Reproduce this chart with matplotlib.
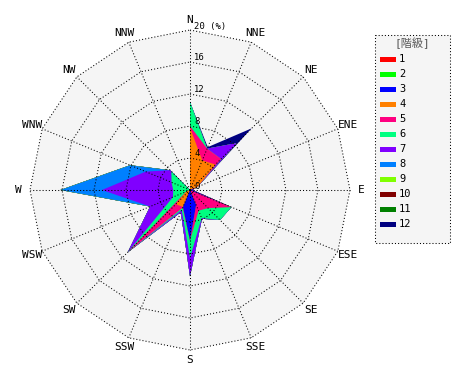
import numpy as np
import matplotlib
matplotlib.use("Agg")
import matplotlib.pyplot as plt
from matplotlib.patches import Polygon, Rectangle

# ---- data (frequency %, per direction, per class) ----
directions = ["N", "NNE", "NE", "ENE", "E", "ESE", "SE", "SSE",
              "S", "SSW", "SW", "WSW", "W", "WNW", "NW", "NNW"]
classes = ["1", "2", "3", "4", "5", "6", "7", "8", "9", "10", "11", "12"]
colors = ["#FF0000", "#00FF00", "#0000FF", "#FF8000", "#FF0080", "#00FF80",
          "#8000FF", "#0080FF", "#80FF00", "#800000", "#008000", "#000080"]

class1 = [0, 0, 0, 0, 0, 0, 0, 0, 0, 0, 0, 0, 0, 0, 0, 0]
class2 = [0, 0, 0, 0, 0, 0, 0, 0, 0, 0, 0, 0, 0, 0, 0, 0]
class3 = [0, 0, 0, 0.8, 0.3, 5.5, 0, 2.0, 6.3, 2.3, 0, 0, 0, 0, 0, 0]
class4 = [7.8, 4.0, 4.5, 0.2, 0, 0, 0, 0, 0, 0, 2.5, 0.5, 0, 0, 0, 0]
class5 = [0.2, 1.6, 1.0, 0, 0, 0.1, 3.2, 0.8, 0, 0.1, 8.5, 0, 0, 0, 0, 0]
class6 = [3.0, 0, 0, 0, 0, 0, 2.1, 1.0, 2.2, 0.3, 0, 1.8, 2.1, 2.5, 3.3, 0]
class7 = [0, 0, 2.8, 0, 0, 0, 0, 0.1, 2.3, 0.3, 0, 3.1, 8.9, 3.5, 0.2, 0]
class8 = [0, 0, 0, 0, 0, 0, 0, 0, 0, 0, 0, 0, 5.2, 2.1, 0, 0]
class9 = [0, 0, 0, 0, 0, 0, 0, 0, 0, 0, 0, 0, 0, 0, 0, 0]
class10 = [0, 0, 0, 0, 0, 0, 0, 0, 0, 0, 0, 0, 0, 0, 0, 0]
class11 = [0, 0, 0, 0, 0, 0, 0, 0, 0, 0, 0, 0, 0, 0, 0, 0]
class12 = [0, 0.2, 2.6, 0, 0, 0, 0, 0, 0, 0, 0, 0, 0, 0, 0, 0]

ring_values = [4, 8, 12, 16, 20]
ring_labels = ["4", "8", "12", "16", "20 (%)"]
rmax = 20

series = [class1, class2, class3, class4, class5, class6, class7, class8,
          class9, class10, class11, class12]

mono = "DejaVu Sans Mono"

fig = plt.figure(figsize=(4.7, 3.8), dpi=100)
fig.patch.set_facecolor("white")
ax = fig.add_axes([0, 0, 1, 1])
ax.set_xlim(-23.75, 35.0)
ax.set_ylim(-23.75, 23.75)
ax.set_aspect("equal")
ax.axis("off")

theta = np.deg2rad(np.arange(16) * 22.5)
sx, sy = np.sin(theta), np.cos(theta)

# background polygon
bg = Polygon(np.column_stack([rmax * sx, rmax * sy]), closed=True,
             facecolor="#F5F5F5", edgecolor="none", zorder=0)
ax.add_patch(bg)

# stacked filled polygons
cum = np.cumsum(np.array(series, dtype=float), axis=0)
for k in range(len(series) - 1, -1, -1):
    r = cum[k]
    poly = Polygon(np.column_stack([r * sx, r * sy]), closed=True,
                   facecolor=colors[k], edgecolor="none", zorder=1 + (12 - k) * 0.01)
    ax.add_patch(poly)

# grid rings and spokes
dot = dict(color="black", lw=0.75, linestyle=(0, (1, 2)), zorder=3)
for rv in ring_values:
    xs = np.append(rv * sx, rv * sx[0])
    ys = np.append(rv * sy, rv * sy[0])
    ax.plot(xs, ys, **dot)
for i in range(16):
    ax.plot([0, rmax * sx[i]], [0, rmax * sy[i]], **dot)

# ring labels
ax.text(0.55, 0.45, "0", fontsize=6.4, family=mono, ha="left", va="center", zorder=4)
for rv, lab in zip(ring_values, ring_labels):
    ax.text(0.55, rv + 0.5, lab, fontsize=6.4, family=mono,
            ha="left", va="center", zorder=4)

# direction labels
for i, d in enumerate(directions):
    ax.text(21.4 * sx[i], 21.3 * sy[i], d, fontsize=8, family=mono,
            ha="center", va="center", zorder=4)

# legend (pixel coordinates overlay)
lg = fig.add_axes([0, 0, 1, 1])
lg.set_xlim(0, 470)
lg.set_ylim(380, 0)
lg.axis("off")
lg.patch.set_alpha(0)
lg.add_patch(Rectangle((375, 35), 75, 208, facecolor="#F5F5F5",
                       edgecolor="black", lw=0.75, linestyle=(0, (1, 2))))
lg.text(412.5, 43, "[階級]", fontsize=8, color="#555555",
        family=[mono, "Noto Sans CJK JP"], ha="center", va="center")
for k, lab in enumerate(classes):
    y = 59 + 15 * k
    lg.add_patch(Rectangle((380, y - 2.5), 16, 5, facecolor=colors[k],
                           edgecolor="none"))
    lg.text(399, y, lab, fontsize=7.5, family=mono, ha="left", va="center")

fig.savefig("out.png", dpi=100)
